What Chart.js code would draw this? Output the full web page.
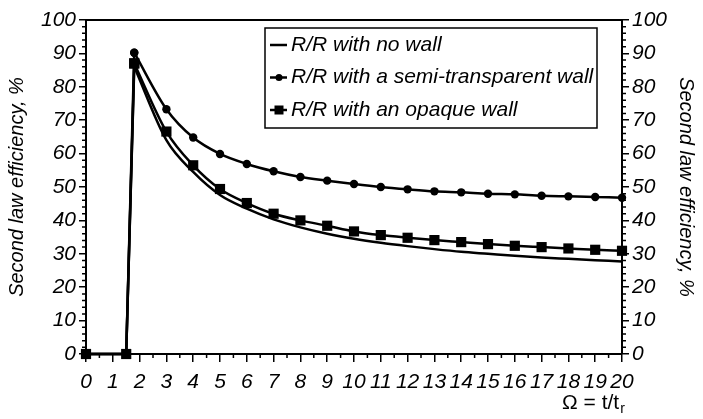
<!DOCTYPE html>
<html>
<head>
<meta charset="utf-8">
<script src="https://cdn.jsdelivr.net/npm/chart.js@4/dist/chart.umd.min.js"></script>
<style>
  html, body { margin: 0; padding: 0; background: #fff; }
  #wrap { width: 703px; height: 419px; }
</style>
</head>
<body>
<div id="wrap"><canvas id="effChart" width="703" height="419"></canvas></div>
<script>
/* Omega = t/t_r sample points, shared by all three curves */
const OMEGA = [0, 1.5, 1.8, 3, 4, 5, 6, 7, 8, 9, 10, 11, 12, 13, 14, 15, 16, 17, 18, 19, 20];

/* Second law efficiency, % */
const NO_WALL   = [0, 0, 86.0, 64.0, 54.5, 47.6, 43.5, 40.3, 37.9, 36.0, 34.5, 33.3, 32.3, 31.4, 30.6, 30.0, 29.4, 28.9, 28.5, 28.1, 27.7];
const SEMI_WALL = [0, 0, 90.2, 73.3, 64.8, 59.9, 56.9, 54.7, 53.0, 51.9, 50.9, 50.0, 49.3, 48.7, 48.4, 48.0, 47.8, 47.4, 47.2, 47.0, 46.8];
const OPAQUE    = [0, 0, 87.0, 66.6, 56.5, 49.4, 45.2, 42.0, 40.0, 38.4, 36.7, 35.6, 34.8, 34.1, 33.5, 32.9, 32.4, 32.0, 31.6, 31.2, 30.9];

const SERIES_LABELS = ['R/R with no wall', 'R/R with a semi-transparent wall', 'R/R with an opaque wall'];
const X_TICKS = { min: 0, max: 20, step: 1 };
const Y_TICKS = { min: 0, max: 100, step: 10 };

const FONT = 'Liberation Sans, Arial, Helvetica, sans-serif';
const INK  = '#000';

// one series -> two datasets: straight start-up spike, then smooth decay
function buildSeries(values, label, marker, order) {
    const pts = OMEGA.map((x, i) => ({ x, y: values[i] }));
    const common = {
        label,
        borderColor: INK,
        backgroundColor: INK,
        borderWidth: 2.5,
        pointStyle: marker.style,
        pointRadius: marker.radius,
        pointBorderWidth: 0,
        clip: false,
        order,
    };
    return [
        { ...common, data: pts.slice(0, 3), tension: 0 },
        { ...common, data: pts.slice(2), cubicInterpolationMode: 'monotone' },
    ];
}

const MARKERS = [
    { style: 'circle', radius: 0 },
    { style: 'circle', radius: 4.2 },
    { style: 'rect',   radius: 7.2 },
];

const datasets = [
    ...buildSeries(NO_WALL,   SERIES_LABELS[0], MARKERS[0], 2),
    ...buildSeries(SEMI_WALL, SERIES_LABELS[1], MARKERS[1], 1),
    ...buildSeries(OPAQUE,    SERIES_LABELS[2], MARKERS[2], 0),
];

/* ──────────────────────────────────────────────────────────────
   decorations: minor ticks, top frame line, boxed legend, x title
   ────────────────────────────────────────────────────────────── */
const decorations = {
    id: 'decorations',
    afterDraw(chart) {
        const { ctx, chartArea: a, scales: { x, y } } = chart;
        ctx.save();
        ctx.strokeStyle = INK;
        ctx.fillStyle = INK;

        // minor ticks
        ctx.lineWidth = 1.5;
        ctx.beginPath();
        for (let v = Y_TICKS.min; v <= Y_TICKS.max; v += 2) {
            if (v % Y_TICKS.step === 0) continue;
            const py = y.getPixelForValue(v);
            ctx.moveTo(a.left - 4, py);  ctx.lineTo(a.left, py);
            ctx.moveTo(a.right, py);     ctx.lineTo(a.right + 4, py);
        }
        for (let v = X_TICKS.min + 0.5; v < X_TICKS.max; v += 1) {
            const px = x.getPixelForValue(v);
            ctx.moveTo(px, a.bottom);    ctx.lineTo(px, a.bottom + 4);
        }
        ctx.stroke();

        // top frame line
        ctx.lineWidth = 2;
        ctx.beginPath();
        ctx.moveTo(a.left, a.top);
        ctx.lineTo(a.right, a.top);
        ctx.stroke();

        // legend box
        const lx = a.left + 179, ly = a.top + 8, lw = 332, lh = 100;
        ctx.lineWidth = 1.5;
        ctx.strokeRect(lx, ly, lw, lh);
        ctx.font = `italic 21px ${FONT}`;
        ctx.textBaseline = 'middle';
        ctx.textAlign = 'left';
        SERIES_LABELS.forEach((label, i) => {
            const cy = ly + 17 + i * 32.5;
            ctx.lineWidth = 2.5;
            ctx.beginPath();
            ctx.moveTo(lx + 5, cy);
            ctx.lineTo(lx + 22, cy);
            ctx.stroke();
            const mx = lx + 14;
            if (i === 1) {
                ctx.beginPath();
                ctx.arc(mx, cy, 3.5, 0, Math.PI * 2);
                ctx.fill();
            } else if (i === 2) {
                ctx.fillRect(mx - 4.5, cy - 4.5, 9, 9);
            }
            ctx.fillText(label, lx + 26, cy);
        });

        // x axis title: Ω = t/t_r
        const tx = a.right - 60, ty = a.bottom + 49;
        ctx.font = `21px ${FONT}`;
        const main = 'Ω = t/t';
        ctx.fillText(main, tx, ty);
        const w = ctx.measureText(main).width;
        ctx.font = `14px ${FONT}`;
        ctx.fillText('r', tx + w + 1, ty + 6);

        ctx.restore();
    },
};

const tickFont = { family: FONT, size: 21, style: 'italic' };

function yAxis(position) {
    return {
        type: 'linear',
        position,
        min: Y_TICKS.min,
        max: Y_TICKS.max,
        ticks: { stepSize: Y_TICKS.step, color: INK, font: tickFont, padding: 3 },
        grid: { drawOnChartArea: false, drawTicks: true, tickLength: 7, color: INK, lineWidth: 1.5 },
        border: { display: true, color: INK, width: 2 },
        title: {
            display: true,
            text: 'Second law efficiency, %',
            color: INK,
            font: { family: FONT, size: 20, style: 'italic' },
            padding: { top: 5, bottom: 0 },
        },
        afterFit(scale) { scale.width = position === 'left' ? 86 : 81; },
    };
}

new Chart(document.getElementById('effChart').getContext('2d'), {
    type: 'line',
    data: { datasets },
    options: {
        responsive: false,
        devicePixelRatio: 1,
        animation: false,
        layout: { padding: { top: 20, left: 0, right: 0, bottom: 0 } },
        plugins: {
            legend: { display: false },
            tooltip: { enabled: false },
        },
        scales: {
            x: {
                type: 'linear',
                min: X_TICKS.min,
                max: X_TICKS.max,
                ticks: { stepSize: X_TICKS.step, color: INK, font: tickFont, padding: 8, maxRotation: 0, autoSkip: false },
                grid: { drawOnChartArea: false, drawTicks: true, tickLength: 8, color: INK, lineWidth: 1.5 },
                border: { display: true, color: INK, width: 2 },
                afterFit(scale) { scale.height = 65; },
            },
            y: yAxis('left'),
            y2: yAxis('right'),
        },
    },
    plugins: [decorations],
});
</script>
</body>
</html>
